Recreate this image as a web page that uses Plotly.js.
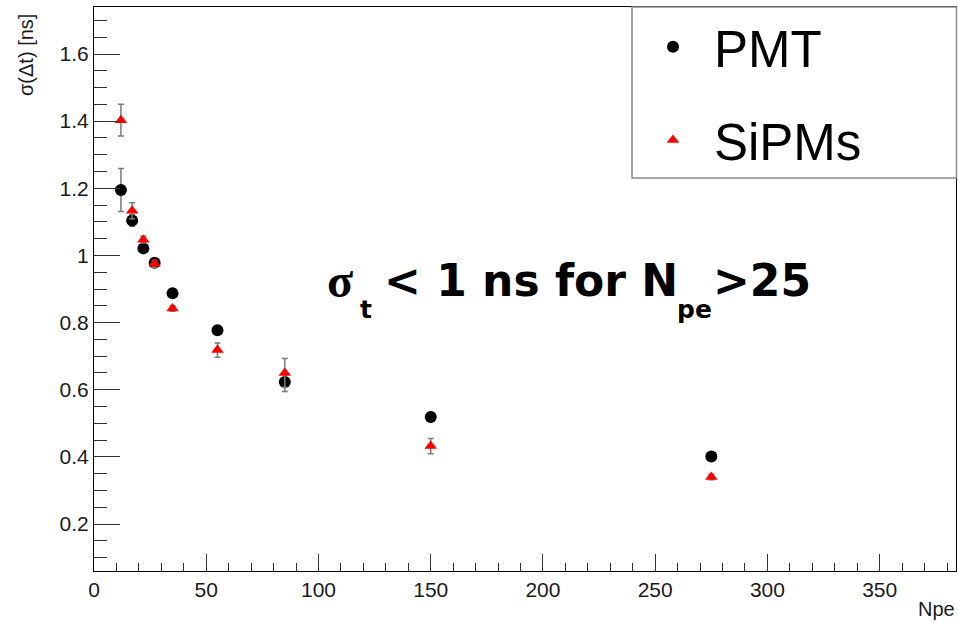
<!DOCTYPE html>
<html>
<head>
<meta charset="utf-8">
<script src="https://cdn.plot.ly/plotly-3.0.1.min.js"></script>
<style>
html,body{margin:0;padding:0;background:#fff;}
#chart{width:958px;height:623px;}
</style>
</head>
<body>
<div id="chart"></div>
<script>
// ---- data ----
var npe = [12, 17, 22, 27, 35, 55, 85, 150, 275];
var pmtSigma = [1.195, 1.104, 1.021, 0.978, 0.887, 0.777, 0.623, 0.519, 0.401];
var pmtErr   = [0.064, 0.017, 0.008, 0.008, 0.006, 0.006, 0.028, 0.006, 0.005];
var sipmSigma = [1.403, 1.133, 1.047, 0.975, 0.842, 0.718, 0.650, 0.432, 0.340];
var sipmErr   = [0.047, 0.024, 0.010, 0.010, 0.008, 0.021, 0.043, 0.023, 0.008];
var seriesNames = ["PMT", "SiPMs"];
var xTitle = "Npe";
var yTitle = "σ(Δt) [ns]";

// ---- layout geometry (pixels) ----
var W = 958, H = 623;
var L = 94, R = 2, T = 7, B = 52;
var PW = W - L - R, PH = H - T - B;
function px(x){ return (x - L) / PW; }
function py(y){ return 1 - (y - T) / PH; }

var sansFont = "Liberation Sans, Arial, Helvetica, sans-serif";
var wideBold = "DejaVu Sans, Verdana, sans-serif";
var serifFont = "Liberation Serif, Times New Roman, serif";

var traces = [
  {
    x: npe, y: pmtSigma, name: seriesNames[0], type: "scatter", mode: "markers",
    marker: {symbol: "circle", size: 12, color: "#000000"},
    error_y: {type: "data", array: pmtErr, visible: true, color: "#7a7a7a", thickness: 1.5, width: 3},
    legendgroup: "a"
  },
  {
    x: npe, y: sipmSigma, name: seriesNames[1], type: "scatter", mode: "markers",
    marker: {symbol: "triangle-up", size: 11, color: "#ff0000"},
    error_y: {type: "data", array: sipmErr, visible: true, color: "#7a7a7a", thickness: 1.5, width: 3},
    legendgroup: "b"
  }
];

var tickFont = {family: sansFont, size: 21, color: "#1a1a1a"};

var layout = {
  width: W, height: H,
  margin: {l: L, r: R, t: T, b: B, pad: 0},
  paper_bgcolor: "#ffffff",
  plot_bgcolor: "#ffffff",
  showlegend: true,
  xaxis: {
    range: [0, 384],
    dtick: 50, tick0: 0,
    ticks: "inside", ticklen: 17, tickwidth: 1, tickcolor: "#333",
    minor: {dtick: 10, ticks: "inside", ticklen: 8, tickwidth: 1, tickcolor: "#333"},
    showline: true, linecolor: "#000", linewidth: 1, mirror: true,
    showgrid: false, zeroline: false,
    tickfont: tickFont
  },
  yaxis: {
    range: [0.06, 1.74],
    dtick: 0.2, tick0: 0,
    ticks: "inside", ticklen: 26, tickwidth: 1, tickcolor: "#333",
    minor: {dtick: 0.05, ticks: "inside", ticklen: 13, tickwidth: 1, tickcolor: "#333"},
    showline: true, linecolor: "#000", linewidth: 1, mirror: true,
    showgrid: false, zeroline: false,
    tickfont: tickFont
  },
  legend: {
    x: px(632), xanchor: "left",
    y: 1, yanchor: "top",
    bgcolor: "rgba(0,0,0,0)",
    borderwidth: 0,
    font: {family: sansFont, size: 51, color: "#000"},
    itemwidth: 72,
    traceorder: "grouped",
    tracegroupgap: 24
  },
  shapes: [
    {type: "rect", xref: "paper", yref: "paper",
     x0: px(632), x1: px(956.5), y0: py(178), y1: py(7),
     line: {color: "#8a8a8a", width: 1.5}, fillcolor: "#ffffff", layer: "above"}
  ],
  annotations: [
    {text: yTitle, xref: "paper", yref: "paper", x: px(26), y: py(55),
     xanchor: "center", yanchor: "middle", textangle: -90, showarrow: false,
     font: {family: sansFont, size: 20, color: "#1a1a1a"}},
    {text: xTitle, xref: "paper", yref: "paper", x: px(957), y: py(609),
     xanchor: "right", yanchor: "middle", showarrow: false,
     font: {family: sansFont, size: 20, color: "#1a1a1a"}},
    {text: "σ", xref: "paper", yref: "paper", x: px(325), y: py(280),
     xanchor: "left", yanchor: "middle", showarrow: false,
     font: {family: serifFont, size: 48, color: "#000", weight: "bold"}},
    {text: "t", xref: "paper", yref: "paper", x: px(358), y: py(309),
     xanchor: "left", yanchor: "middle", showarrow: false,
     font: {family: wideBold, size: 25, color: "#000", weight: "bold"}},
    {text: "&lt; 1 ns for N", xref: "paper", yref: "paper", x: px(382), y: py(280),
     xanchor: "left", yanchor: "middle", showarrow: false,
     font: {family: wideBold, size: 44, color: "#000", weight: "bold"}},
    {text: "pe", xref: "paper", yref: "paper", x: px(675), y: py(309),
     xanchor: "left", yanchor: "middle", showarrow: false,
     font: {family: wideBold, size: 25, color: "#000", weight: "bold"}},
    {text: "&gt;25", xref: "paper", yref: "paper", x: px(711), y: py(280),
     xanchor: "left", yanchor: "middle", showarrow: false,
     font: {family: wideBold, size: 44, color: "#000", weight: "bold"}}
  ]
};

Plotly.newPlot("chart", traces, layout, {displayModeBar: false, staticPlot: true});
</script>
</body>
</html>
